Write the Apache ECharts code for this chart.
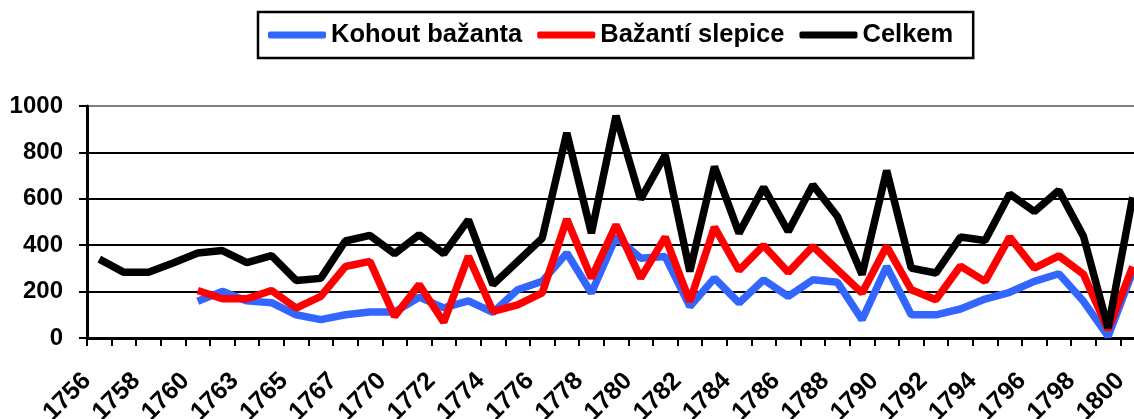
<!DOCTYPE html>
<html>
<head>
<meta charset="utf-8">
<script src="https://cdn.jsdelivr.net/npm/echarts@6/dist/echarts.min.js"></script>
<style>
  html, body { margin: 0; padding: 0; background: #fff; }
  #chart { width: 1134px; height: 419px; }
</style>
</head>
<body>
<div id="chart"></div>
<script>
// roky (chybí 1761 a 1768)
const years = ['1756','1757','1758','1759','1760','1762','1763','1764','1765','1766',
  '1767','1769','1770','1771','1772','1773','1774','1775','1776','1777',
  '1778','1779','1780','1781','1782','1783','1784','1785','1786','1787',
  '1788','1789','1790','1791','1792','1793','1794','1795','1796','1797',
  '1798','1799','1800'];

const seriesNames = ['Kohout bažanta', 'Bažantí slepice', 'Celkem'];

const kohout = [null, null, null, null, 158, 201, 160, 152, 100, 79,
  100, 112, 112, 176, 130, 160, 110, 208, 244, 366,
  194, 435, 344, 351, 136, 258, 151, 251, 179, 251,
  240, 79, 308, 100, 100, 125, 168, 197, 244, 277,
  158, 7, 285];

const slepice = [null, null, null, null, 205, 169, 169, 205, 129, 179,
  308, 330, 93, 230, 68, 352, 115, 143, 194, 512,
  258, 488, 258, 435, 158, 478, 291, 399, 283, 395,
  294, 194, 395, 208, 165, 310, 244, 435, 301, 354,
  275, 36, 308];

const celkem = [340, 283, 283, 323, 366, 377, 325, 355, 248, 257,
  418, 442, 363, 445, 363, 509, 230, 330, 430, 884,
  452, 958, 598, 789, 287, 739, 452, 650, 459, 660,
  524, 273, 722, 301, 280, 435, 420, 621, 545, 636,
  438, 43, 607];

const yTicks = [0, 200, 400, 600, 800, 1000];

const font = "'Liberation Sans', Arial, sans-serif";
const colors = ['#3366ff', '#ff0000', '#000000'];

let chart = echarts.init(document.getElementById('chart'), null, { renderer: 'canvas' });

let option = {
  animation: false,
  backgroundColor: '#fff',
  legend: {
    left: 258,
    top: 12,
    padding: [10, 20, 10, 10],
    itemGap: 15,
    itemWidth: 58,
    itemHeight: 7,
    icon: 'roundRect',
    borderColor: '#000',
    borderWidth: 2.5,
    textStyle: { fontSize: 25.5, fontWeight: 'bold', color: '#000', fontFamily: font },
    data: seriesNames
  },
  grid: {
    left: 87,
    top: 106,
    width: 1058,
    height: 232,
    containLabel: false,
    outerBoundsMode: 'none'
  },
  xAxis: [
    {
      type: 'category',
      data: years,
      boundaryGap: true,
      axisLine: { lineStyle: { color: '#000', width: 3 } },
      axisTick: { show: true, interval: 0, length: 8, lineStyle: { color: '#000', width: 2 } },
      axisLabel: { show: false },
      splitLine: { show: false }
    },
    {
      // popisky sedí na dělících čárkách jako v originále
      type: 'category',
      data: years.concat(['']),
      boundaryGap: false,
      position: 'bottom',
      axisLine: { show: false },
      axisTick: { show: false },
      splitLine: { show: false },
      axisLabel: {
        interval: 1,
        rotate: 45,
        margin: 39,
        fontSize: 25,
        fontWeight: 'bold',
        color: '#000',
        fontFamily: font
      }
    }
  ],
  yAxis: {
    type: 'value',
    min: yTicks[0],
    max: yTicks[yTicks.length - 1],
    interval: 200,
    axisLine: { show: true, lineStyle: { color: '#000', width: 3 } },
    axisTick: { show: true, length: 8, lineStyle: { color: '#000', width: 2 } },
    axisLabel: {
      margin: 24, fontSize: 24, fontWeight: 'bold', color: '#000', fontFamily: font,
      formatter: function (v) { return String(v); }
    },
    splitLine: {
      show: true,
      lineStyle: { color: ['#000', '#000', '#000', '#000', '#000', '#808080'], width: 2 }
    }
  },
  series: [
    {
      name: seriesNames[0],
      type: 'line',
      data: kohout,
      symbol: 'none',
      color: colors[0],
      lineStyle: { width: 7.5, color: colors[0] }
    },
    {
      name: seriesNames[1],
      type: 'line',
      data: slepice,
      symbol: 'none',
      color: colors[1],
      lineStyle: { width: 7.5, color: colors[1] }
    },
    {
      name: seriesNames[2],
      type: 'line',
      data: celkem,
      symbol: 'none',
      color: colors[2],
      lineStyle: { width: 7.5, color: colors[2] }
    }
  ]
};

option && chart.setOption(option);
</script>
</body>
</html>
